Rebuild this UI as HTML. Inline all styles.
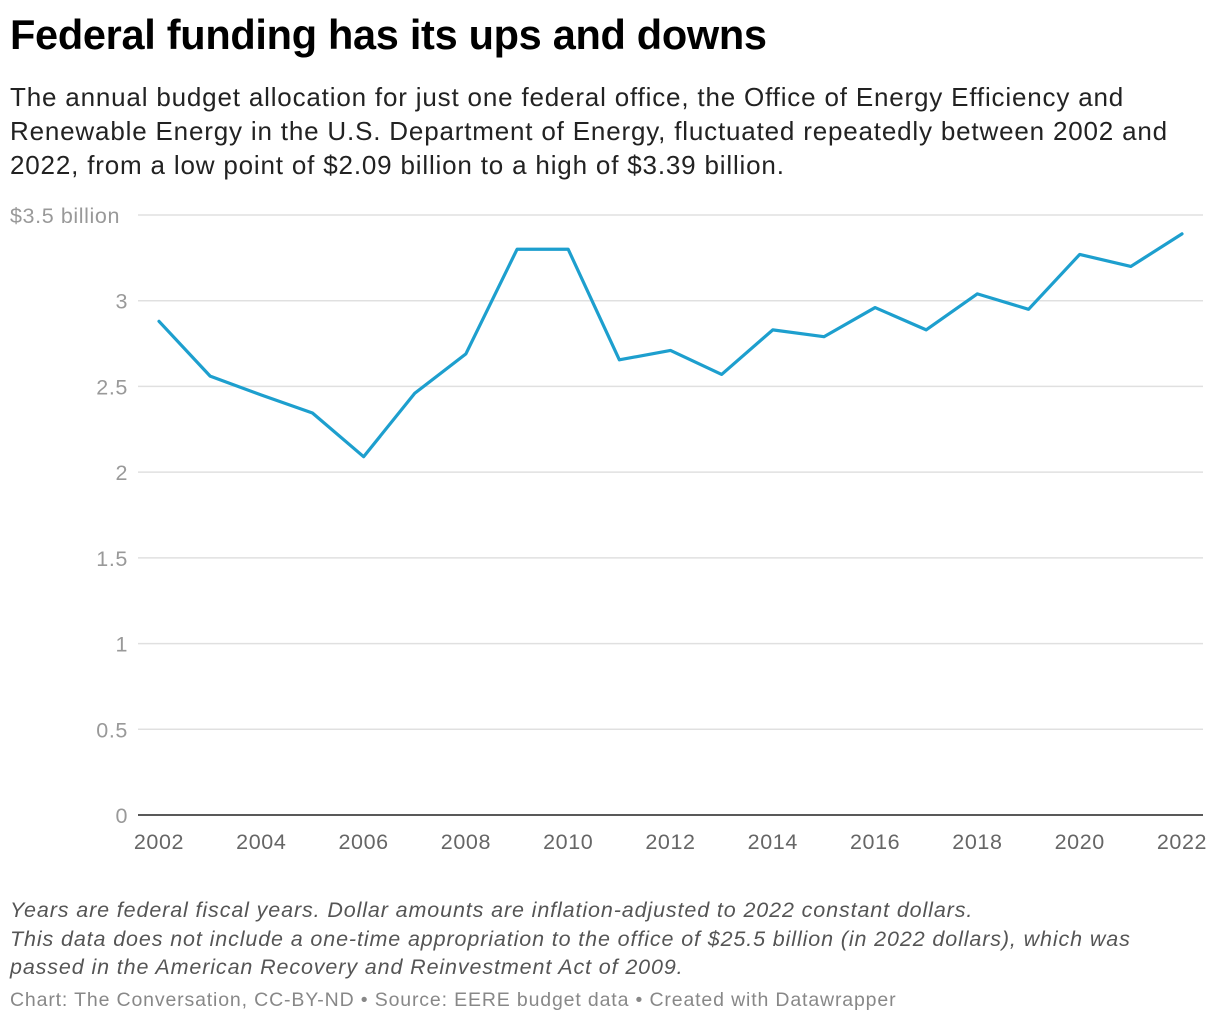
<!DOCTYPE html>
<html><head><meta charset="utf-8"><style>
body{margin:0;background:#fff;width:1220px;height:1026px;overflow:hidden;font-family:"Liberation Sans",sans-serif;}
.t{position:absolute;left:10px;top:11px;font-size:41.5px;font-weight:bold;color:#000;letter-spacing:-0.3px;white-space:nowrap;}
.s{position:absolute;left:10px;top:80px;font-size:26px;line-height:34px;color:#222;letter-spacing:0.82px;white-space:nowrap;}
.n{position:absolute;left:10px;top:896px;font-size:21.5px;line-height:28.5px;color:#555;font-style:italic;letter-spacing:0.88px;white-space:nowrap;}
.c{position:absolute;left:10px;top:989px;font-size:19.5px;color:#888;letter-spacing:0.85px;white-space:nowrap;}
svg{position:absolute;left:0;top:0;}
</style></head><body>
<div class="t">Federal funding has its ups and downs</div>
<div class="s">The annual budget allocation for just one federal office, the Office of Energy Efficiency and<br>Renewable Energy in the U.S. Department of Energy, fluctuated repeatedly between 2002 and<br>2022, from a low point of $2.09 billion to a high of $3.39 billion.</div>
<svg id="ch" width="1220" height="1026"></svg>
<div class="n">Years are federal fiscal years. Dollar amounts are inflation-adjusted to 2022 constant dollars.<br>This data does not include a one-time appropriation to the office of $25.5 billion (in 2022 dollars), which was<br>passed in the American Recovery and Reinvestment Act of 2009.</div>
<div class="c">Chart: The Conversation, CC-BY-ND • Source: EERE budget data • Created with Datawrapper</div>
<script>
const years=[2002,2003,2004,2005,2006,2007,2008,2009,2010,2011,2012,2013,2014,2015,2016,2017,2018,2019,2020,2021,2022];
const funding=[2.88,2.56,2.45,2.345,2.09,2.46,2.69,3.30,3.30,2.655,2.71,2.57,2.83,2.79,2.96,2.83,3.04,2.95,3.27,3.20,3.39];
const yTicks=[0,0.5,1,1.5,2,2.5,3,3.5];
const yTickLabels=["0","0.5","1","1.5","2","2.5","3","$3.5 billion"];
const xTicks=[2002,2004,2006,2008,2010,2012,2014,2016,2018,2020,2022];
const NS="http://www.w3.org/2000/svg",svg=document.getElementById('ch');
const x=v=>159+(v-2002)*(1182-159)/20;
const y=v=>815-v*(815-215)/3.5;
function mk(t,a){const e=document.createElementNS(NS,t);for(const k in a)e.setAttribute(k,a[k]);svg.appendChild(e);return e;}
yTicks.forEach((v,i)=>{
 if(v>0){const g=mk('line',{x1:138,x2:1203,y1:y(v),y2:y(v),stroke:'#e0e0e0','stroke-width':1.5});
 
 }
 const last=i==yTicks.length-1;
 const t=mk('text',{x:last?10:128,y:y(v)+8,'text-anchor':last?'start':'end','font-size':21.5,'letter-spacing':0.6,fill:'#999','font-family':'Liberation Sans, sans-serif'});
 t.textContent=yTickLabels[i];
 
 
});
const ax=mk('line',{x1:138,x2:1203,y1:815,y2:815,stroke:'#222','stroke-width':1.5});


xTicks.forEach(v=>{
 const t=mk('text',{x:x(v),y:849,'text-anchor':'middle','font-size':21.5,'letter-spacing':0.6,fill:'#666','font-family':'Liberation Sans, sans-serif'});
 t.textContent=v;
 
 
});
const p=mk('polyline',{points:years.map((yr,i)=>x(yr)+','+y(funding[i])).join(' '),fill:'none',stroke:'#1d9fce','stroke-width':3.2,'stroke-linejoin':'round','stroke-linecap':'round'});


</script>
</body></html>
